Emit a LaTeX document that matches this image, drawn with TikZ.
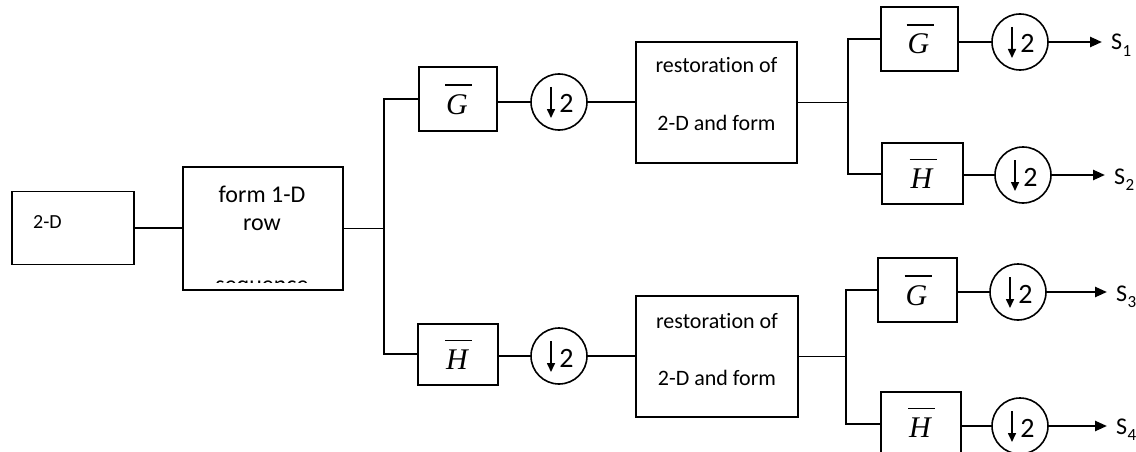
\documentclass[tikz,border=0pt]{standalone}
\usepackage{fontspec}
\setmainfont{Carlito}[Ligatures=NoCommon]
\newfontfamily\tms{Liberation Serif}
\usetikzlibrary{arrows.meta}

\tikzset{
  blk/.style={draw, rectangle, line width=1.8pt, inner sep=0pt},
  dn/.style={draw, circle, line width=1.6pt, minimum size=56pt, inner sep=0pt},
  wire/.style={line width=1.8pt},
  outarr/.style={line width=2.4pt, -{Triangle[length=12pt,width=10pt]}, shorten >=9pt},
  lbl/.style={inner sep=0pt, anchor=base},
  sym/.style={inner sep=0pt, anchor=base, font=\fontsize{30}{30}\selectfont\tms\itshape},
  sout/.style={inner sep=0pt, anchor=base west, font=\fontsize{24}{24}\selectfont},
}
\newcommand{\subout}[1]{S\kern0.5pt\raisebox{-0.28em}{\fontsize{17}{17}\selectfont #1}}

\begin{document}
\begin{tikzpicture}[x=1pt,y=-1pt]
\clip (0,0) rectangle (1136,452);
\fill[white] (0,0) rectangle (1136,452);

% input and row-sequence blocks
\node[blk, minimum width=122pt, minimum height=73pt] (b1) at (73,228) {};
\node[lbl, anchor=base west, font=\fontsize{20}{20}\selectfont] (b1t) at (33,228) {2-D};
\node[blk, minimum width=160pt, minimum height=123pt] (b2) at (263,228.5) {};
\node[lbl, font=\fontsize{24}{24}\selectfont] (b2a) at (262,202) {form 1-D};
\node[lbl, font=\fontsize{24}{24}\selectfont] (b2b) at (262,230) {row};
\begin{scope}
  \clip (184,168) rectangle (342,282);
  \node[lbl, font=\fontsize{24}{24}\selectfont] (b2c) at (262,292) {sequence};
\end{scope}

% first-stage filters
\node[blk, minimum width=78pt, minimum height=64pt] (g1) at (458,99) {};
\node[blk, minimum width=80pt, minimum height=61pt] (h1) at (458,354.5) {};
\node[dn] (d1) at (559,102) {};
\node[dn] (d2) at (559,356) {};

% restoration blocks
\node[blk, minimum width=161pt, minimum height=121pt] (r1) at (716.5,102.5) {};
\node[lbl, font=\fontsize{22}{22}\selectfont] (r1a) at (716.5,73) {restoration of};
\node[lbl, font=\fontsize{22}{22}\selectfont] (r1b) at (716.5,130) {2-D and form};
\node[blk, minimum width=162pt, minimum height=121pt] (r2) at (717,356.5) {};
\node[lbl, font=\fontsize{22}{22}\selectfont] (r2a) at (717,328) {restoration of};
\node[lbl, font=\fontsize{22}{22}\selectfont] (r2b) at (717,385) {2-D and form};

% second-stage filters
\node[blk, minimum width=77pt, minimum height=64pt] (g2) at (919.5,39) {};
\node[blk, minimum width=81pt, minimum height=61pt] (h2) at (922.5,173.5) {};
\node[blk, minimum width=79pt, minimum height=64pt] (g3) at (917.5,290) {};
\node[blk, minimum width=80pt, minimum height=61pt] (h3) at (921,422.5) {};
\node[dn] (d3) at (1020,42) {};
\node[dn] (d4) at (1023,175) {};
\node[dn] (d5) at (1018,292) {};
\node[dn] (d6) at (1020,426) {};

% filter symbols with overbars
\foreach \b/\s in {g1/G, g2/G, g3/G, h1/H, h2/H, h3/H} {
  \node[sym] (\b-s) at ([shift={(-1,15)}]\b.center) {\s};
  \draw[line width=1.4pt] ([shift={(-13,-14)}]\b.center) -- ([shift={(14,-14)}]\b.center);
}

% downsampling symbols
\foreach \d in {d1,d2,d3,d4,d5,d6} {
  \draw[line width=1.6pt, -{Triangle[length=9pt,width=8pt]}]
    ([shift={(-8,-15)}]\d.center) -- ([shift={(-8,16)}]\d.center);
  \node[lbl, font=\fontsize{28}{28}\selectfont] (\d-n) at ([shift={(7.5,11)}]\d.center) {2};
}

% output labels
\node[sout] (s1) at (1111,50) {\subout{1}};
\node[sout] (s2) at (1114,184) {\subout{2}};
\node[sout] (s3) at (1116,301) {\subout{3}};
\node[sout] (s4) at (1116,434) {\subout{4}};

% branch points
\coordinate (ja) at (384,99);
\coordinate (jb) at (384,354);
\coordinate (jc) at (848,39);
\coordinate (jd) at (848,174);
\coordinate (je) at (846,290);
\coordinate (jf) at (846,424);

% connections
\draw[wire] (b1.east) -- (b1.east -| b2.west);
\draw[wire] (b2.east) -- (b2.east -| ja);
\draw[wire] (g1.west |- ja) -- (ja) -- (jb) -- (h1.west |- jb);
\draw[wire] (g1.east |- d1) -- (d1.west);
\draw[wire] (h1.east |- d2) -- (d2.west);
\draw[wire] (d1.east) -- (r1.west |- d1);
\draw[wire] (d2.east) -- (r2.west |- d2);
\draw[wire] (r1.east) -- (r1.east -| jc);
\draw[wire] (r2.east) -- (r2.east -| je);
\draw[wire] (g2.west |- jc) -- (jc) -- (jd) -- (h2.west |- jd);
\draw[wire] (g3.west |- je) -- (je) -- (jf) -- (h3.west |- jf);
\draw[wire] (g2.east |- d3) -- (d3.west);
\draw[wire] (h2.east |- d4) -- (d4.west);
\draw[wire] (g3.east |- d5) -- (d5.west);
\draw[wire] (h3.east |- d6) -- (d6.west);
\draw[outarr] (d3.east) -- (s1.west |- d3);
\draw[outarr] (d4.east) -- (s2.west |- d4);
\draw[outarr] (d5.east) -- (s3.west |- d5);
\draw[outarr] (d6.east) -- (s4.west |- d6);
\end{tikzpicture}
\end{document}
